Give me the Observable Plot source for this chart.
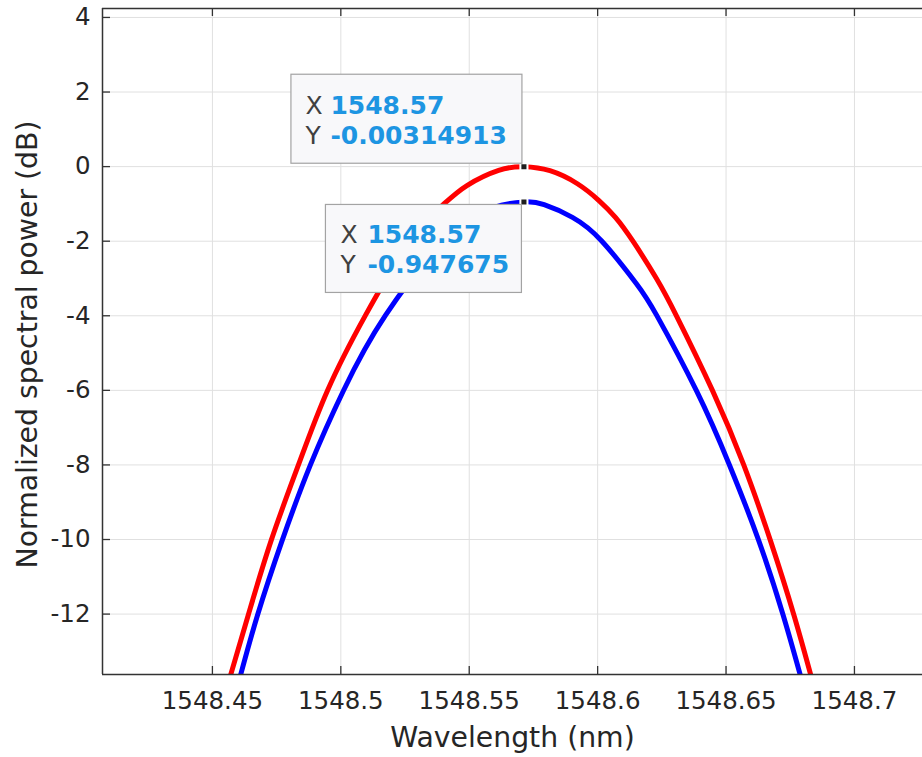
<!DOCTYPE html>
<html>
<head>
<meta charset="utf-8">
<script src="https://cdn.jsdelivr.net/npm/d3@7"></script>
<script src="https://cdn.jsdelivr.net/npm/@observablehq/plot@0.6"></script>
<style>
  html, body { margin: 0; padding: 0; background: #ffffff; }
  svg { display: block; }
</style>
</head>
<body>
<div id="chart"></div>
<script>
// ---- data ----
const xTicks = [1548.45, 1548.5, 1548.55, 1548.6, 1548.65, 1548.7];
const xTickLabels = ["1548.45", "1548.5", "1548.55", "1548.6", "1548.65", "1548.7"];
const yTicks = [-12, -10, -8, -6, -4, -2, 0, 2, 4];
const yTickLabels = ["-12", "-10", "-8", "-6", "-4", "-2", "0", "2", "4"];
const xDomain = [1548.4072, 1548.7265];
const yDomain = [-13.62, 4.24];
const xLabel = "Wavelength (nm)";
const yLabel = "Normalized spectral power (dB)";

const redWavelength = [1548.45681, 1548.46402, 1548.47286, 1548.48349, 1548.49478, 1548.50958, 1548.52710, 1548.54015, 1548.54926, 1548.56145, 1548.5713, 1548.58143, 1548.59213, 1548.60051, 1548.60693, 1548.61375, 1548.62290, 1548.63069, 1548.64470, 1548.65689, 1548.66729, 1548.67636, 1548.68326];
const redPower = [-13.70, -12.01, -10.03, -8.00, -6.01, -3.99, -2.00, -1.00, -0.50, -0.10, -0.0031, -0.11, -0.46, -0.91, -1.36, -2.00, -3.00, -4.00, -6.00, -8.00, -10.03, -12.01, -13.70];

const blueWavelength = [1548.46071, 1548.46764, 1548.47714, 1548.48816, 1548.50101, 1548.51737, 1548.53956, 1548.54949, 1548.55942, 1548.5713, 1548.57917, 1548.59019, 1548.60167, 1548.61511, 1548.62301, 1548.63847, 1548.65132, 1548.66273, 1548.67216, 1548.67917];
const bluePower = [-13.70, -12.01, -10.03, -8.00, -6.01, -3.99, -2.00, -1.45, -1.10, -0.9477, -1.02, -1.36, -2.00, -3.14, -3.99, -6.01, -8.00, -10.03, -12.01, -13.70];

const tipWavelength = [1548.5713, 1548.5713];
const tipPower = [-0.00314913, -0.947675];
const tipLabelX = ["1548.57", "1548.57"];
const tipLabelY = ["-0.00314913", "-0.947675"];

// ---- build tables ----
const red = redWavelength.map((x, i) => ({x, y: redPower[i]}));
const blue = blueWavelength.map((x, i) => ({x, y: bluePower[i]}));
const tips = tipWavelength.map((x, i) => ({x, y: tipPower[i], lx: tipLabelX[i], ly: tipLabelY[i]}));
const xFmt = new Map(xTicks.map((t, i) => [t, xTickLabels[i]]));
const yFmt = new Map(yTicks.map((t, i) => [t, yTickLabels[i]]));

const FONT = "DejaVu Sans";
const TICK_FS = 24.5;
const TIP_FS = 25;
const LABEL_FS = 28.3;
const AXIS_COLOR = "#333333";
const TIP_BLUE = "#1d95e2";

function datatip(tip, o) {
  const d = [tip];
  return [
    Plot.rect(d, {x1: "x", x2: "x", y1: "y", y2: "y",
      insetLeft: o.left, insetRight: o.right, insetTop: o.top, insetBottom: o.bottom,
      fill: "#f8f8fa", stroke: "#a3a3a3", strokeWidth: 1.2}),
    Plot.text(d, {x: "x", y: "y", text: () => "X", dx: o.labelDx, dy: o.line1, textAnchor: "start", lineAnchor: "bottom",
      fill: "#404040", fontSize: TIP_FS}),
    Plot.text(d, {x: "x", y: "y", text: "lx", dx: o.valueDx, dy: o.line1, textAnchor: "start", lineAnchor: "bottom",
      fill: TIP_BLUE, fontWeight: "bold", fontSize: TIP_FS}),
    Plot.text(d, {x: "x", y: "y", text: () => "Y", dx: o.labelDx, dy: o.line2, textAnchor: "start", lineAnchor: "bottom",
      fill: "#404040", fontSize: TIP_FS}),
    Plot.text(d, {x: "x", y: "y", text: "ly", dx: o.valueDx, dy: o.line2, textAnchor: "start", lineAnchor: "bottom",
      fill: TIP_BLUE, fontWeight: "bold", fontSize: TIP_FS})
  ];
}

const chart = Plot.plot({
  width: 922,
  height: 757,
  marginLeft: 102,
  marginRight: 0,
  marginTop: 8,
  marginBottom: 83,
  x: {domain: xDomain},
  y: {domain: yDomain},
  style: {fontFamily: FONT, background: "#ffffff", color: "#262626", overflow: "visible"},
  marks: [
    Plot.gridX(xTicks, {stroke: "#e0e0e0", strokeOpacity: 1, strokeWidth: 1}),
    Plot.gridY(yTicks, {stroke: "#e0e0e0", strokeOpacity: 1, strokeWidth: 1}),
    Plot.line(red, {x: "x", y: "y", stroke: "#ff0000", strokeWidth: 5, curve: "natural", clip: true}),
    Plot.line(blue, {x: "x", y: "y", stroke: "#0000ff", strokeWidth: 5, curve: "natural", clip: true}),
    Plot.dot(tips, {x: "x", y: "y", symbol: "square", r: 4, fill: "#1e1e1e", stroke: "#ffffff", strokeWidth: 2}),
    ...datatip(tips[0], {left: -232.5, right: 1.5, top: -92, bottom: 3, labelDx: -218.5, valueDx: -193.5, line1: -53, line2: -23}),
    ...datatip(tips[1], {left: -198, right: 2, top: 3, bottom: -91, labelDx: -183.5, valueDx: -156.5, line1: 40.7, line2: 70.7}),
    // axis lines (box without the cut-off right side)
    Plot.ruleX([xDomain[0]], {stroke: AXIS_COLOR, strokeWidth: 1.5}),
    Plot.ruleY([yDomain[0], yDomain[1]], {stroke: AXIS_COLOR, strokeWidth: 1.5}),
    // inward ticks
    Plot.ruleX(xTicks, {x: d => d, y1: yDomain[0], y2: yDomain[0], insetTop: -8, stroke: AXIS_COLOR, strokeWidth: 1.3}),
    Plot.ruleX(xTicks, {x: d => d, y1: yDomain[1], y2: yDomain[1], insetBottom: -8, stroke: AXIS_COLOR, strokeWidth: 1.3}),
    Plot.ruleY(yTicks, {y: d => d, x1: xDomain[0], x2: xDomain[0], insetRight: -8, stroke: AXIS_COLOR, strokeWidth: 1.3}),
    // tick labels
    Plot.axisX(xTicks, {anchor: "bottom", tickSize: 0, tickPadding: 17, fontSize: TICK_FS, tickFormat: d => xFmt.get(d), label: null}),
    Plot.axisY(yTicks, {anchor: "left", tickSize: 0, tickPadding: 12, fontSize: TICK_FS, tickFormat: d => yFmt.get(d), label: null}),
    // axis titles
    Plot.text([xLabel], {frameAnchor: "bottom", dy: 63, lineAnchor: "middle", textAnchor: "middle", text: d => d, fontSize: LABEL_FS, fill: "#262626"}),
    Plot.text([yLabel], {frameAnchor: "left", dx: -75, dy: 3, rotate: -90, lineAnchor: "middle", textAnchor: "middle", text: d => d, fontSize: LABEL_FS, fill: "#262626"})
  ]
});
document.getElementById("chart").appendChild(chart);
</script>
</body>
</html>
